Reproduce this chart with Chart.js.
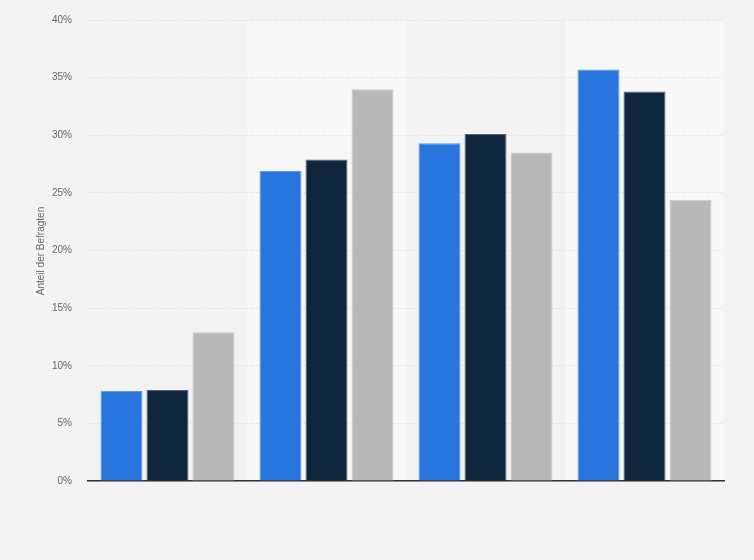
<!DOCTYPE html>
<html>
<head>
<meta charset="utf-8">
<script src="https://cdn.jsdelivr.net/npm/chart.js@4"></script>
<style>
  html, body { margin: 0; padding: 0; background: #f3f3f3; }
  #wrap { width: 754px; height: 560px; }
</style>
</head>
<body>
<div id="wrap"><canvas id="chart"></canvas></div>
<script>
// categories have no visible labels in the picture
var categories = ["", "", "", ""];
var seriesBlue = [7.8, 26.9, 29.3, 35.7];
var seriesNavy = [7.9, 27.9, 30.1, 33.8];
var seriesGray = [12.9, 34.0, 28.5, 24.4];
var yTitle = "Anteil der Befragten";

// background + alternating column bands
var bandsPlugin = {
  id: "bands",
  beforeDraw: function (chart) {
    var ctx = chart.ctx;
    var area = chart.chartArea;
    var x = chart.scales.x;
    ctx.save();
    ctx.fillStyle = "#f3f3f3";
    ctx.fillRect(0, 0, chart.width, chart.height);
    var w = (area.right - area.left) / categories.length;
    ctx.fillStyle = "#f8f8f8";
    for (var i = 1; i < categories.length; i += 2) {
      var cx = x.getPixelForValue(i);
      ctx.fillRect(cx - w / 2, area.top, w, area.bottom - area.top);
    }
    ctx.restore();
  },
  afterDraw: function (chart) {
    var ctx = chart.ctx;
    ctx.save();
    ctx.translate(41, 251);
    ctx.rotate(-Math.PI / 2);
    ctx.fillStyle = "#666666";
    ctx.font = "10px 'Liberation Sans', Arial, sans-serif";
    ctx.textAlign = "center";
    ctx.textBaseline = "middle";
    ctx.fillText(yTitle, 0, 0);
    ctx.restore();
  }
};

new Chart(document.getElementById("chart").getContext("2d"), {
  type: "bar",
  data: {
    labels: categories,
    datasets: [
      { label: "A", data: seriesBlue, backgroundColor: "#2876dd", borderColor: "#5a9ae6", borderWidth: 1 },
      { label: "B", data: seriesNavy, backgroundColor: "#10263f", borderColor: "#55626f", borderWidth: 1 },
      { label: "C", data: seriesGray, backgroundColor: "#b8b8b8", borderColor: "#c9c9c9", borderWidth: 1 },
    ],
  },
  options: {
    responsive: true,
    maintainAspectRatio: false,
    animation: false,
    categoryPercentage: 0.868,
    barPercentage: 0.913,
    layout: { padding: { top: 20, right: 30, left: 0, bottom: 0 } },
    plugins: {
      legend: { display: false },
      tooltip: { enabled: false },
    },
    scales: {
      x: {
        grid: { display: false },
        border: { display: true, color: "#333333", width: 1.5 },
        ticks: { display: false },
        afterFit: function (scale) { scale.height = 79; },
      },
      y: {
        min: 0,
        max: 40,
        ticks: {
          stepSize: 5,
          padding: 16,
          color: "#666666",
          font: { size: 10, family: "'Liberation Sans', Arial, sans-serif" },
          callback: function (v) { return v + "%"; },
        },
        grid: { color: "#d6d6d6", drawTicks: false, lineWidth: 1 },
        border: { display: false, dash: [1, 2] },
        afterFit: function (scale) {
          scale.width = 88;
          scale.paddingTop = 0;
          scale.paddingBottom = 0;
        },
      },
    },
  },
  plugins: [bandsPlugin],
});
</script>
</body>
</html>
